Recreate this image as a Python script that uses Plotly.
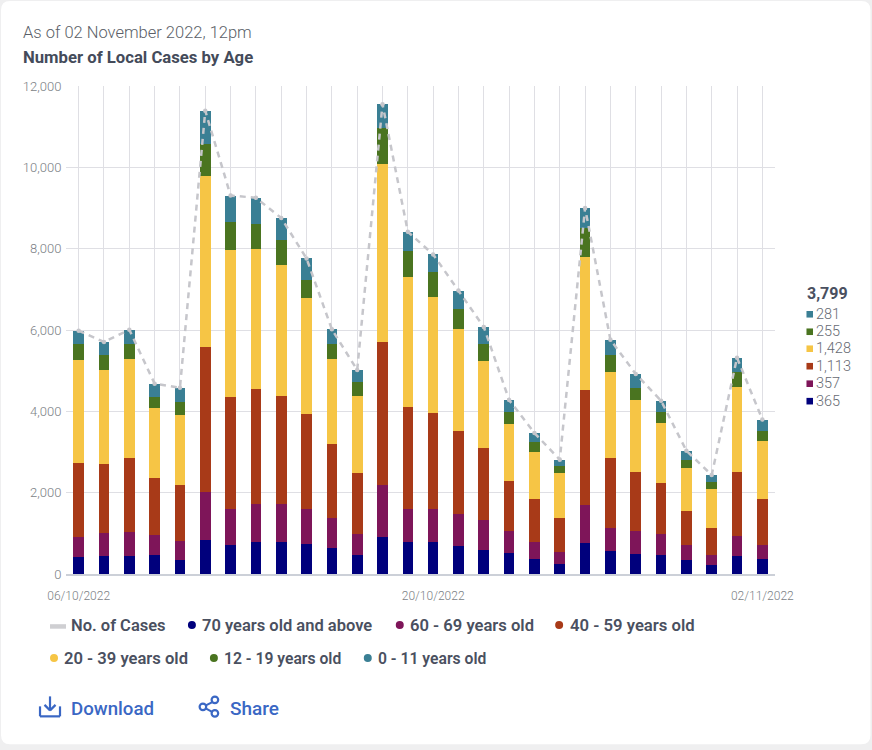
import plotly.graph_objects as go

dates = ["06/10/2022","07/10/2022","08/10/2022","09/10/2022","10/10/2022","11/10/2022","12/10/2022",
         "13/10/2022","14/10/2022","15/10/2022","16/10/2022","17/10/2022","18/10/2022","19/10/2022",
         "20/10/2022","21/10/2022","22/10/2022","23/10/2022","24/10/2022","25/10/2022","26/10/2022",
         "27/10/2022","28/10/2022","29/10/2022","30/10/2022","31/10/2022","01/11/2022","02/11/2022"]
age_70_plus = [418,451,451,459,352,844,705,779,795,738,648,475,910,779,779,697,598,525,377,254,762,557,500,475,336,230,434,365]
age_60_69 = [500,565,590,508,451,1164,885,951,926,869,729,517,1270,828,828,778,722,524,402,279,943,582,549,500,369,237,509,357]
age_40_59 = [1803,1689,1811,1385,1394,3582,2754,2827,2648,2319,1820,1492,3533,2491,2360,2050,1778,1230,1065,844,2828,1705,1451,1255,852,672,1573,1113]
age_20_39 = [2541,2303,2435,1722,1721,4201,3629,3441,3235,2864,2090,1885,4380,3202,2843,2491,2148,1418,1164,1098,3267,2123,1779,1475,1050,959,2082,1428]
age_12_19 = [402,369,361,287,303,786,671,614,614,446,361,352,878,631,605,492,418,278,230,173,710,410,303,270,204,164,369,255]
age_0_11 = [320,328,360,319,361,815,663,639,537,523,368,295,582,484,442,462,410,304,229,163,490,385,336,287,222,172,353,281]
total_cases = [5984,5705,6008,4680,4582,11392,9307,9251,8755,7759,6016,5016,11553,8415,7857,6970,6074,4279,3467,2811,9000,5762,4918,4262,3033,2434,5320,3799]
shown_dates = ["06/10/2022","20/10/2022","02/11/2022"]
y_ticks = [0,2000,4000,6000,8000,10000,12000]

series = [("70 years old and above", age_70_plus, "#00007c"),
          ("60 - 69 years old", age_60_69, "#7e1559"),
          ("40 - 59 years old", age_40_59, "#a83a18"),
          ("20 - 39 years old", age_20_39, "#f6c545"),
          ("12 - 19 years old", age_12_19, "#4a7420"),
          ("0 - 11 years old", age_0_11, "#3a7f94")]

W, H = 872, 750
L, R, T, B = 66, 775.5, 86, 574.5
FONT = "Roboto"
def px(x): return (x - L) / (R - L)
def py(y): return (B - y) / (B - T)

fig = go.Figure()
for name, vals, col in series:
    fig.add_bar(x=dates, y=vals, name=name, marker=dict(color=col, line_width=0), showlegend=False)
fig.add_scatter(x=dates, y=total_cases, mode="lines+markers", name="No. of Cases",
                line=dict(color="#c6c6cb", width=2.5, dash="6px,5px"),
                marker=dict(size=4.5, color="#c6c6cb"), showlegend=False)

anns = []
def text(x, y, s, size, color, weight=400):
    anns.append(dict(xref="paper", yref="paper", x=px(x), y=py(y), text=s, showarrow=False,
                     xanchor="left", yanchor="middle", align="left", borderpad=0, borderwidth=0,
                     font=dict(family=FONT, size=size, color=color, weight=weight)))

text(23, 32, "As of 02 November 2022, 12pm", 16.5, "#5b5f68", 300)
text(23, 57, "Number of Local Cases by Age", 16.7, "#444b5a", 700)

# right-hand readout
text(808, 293.5, f"{total_cases[-1]:,}", 16, "#4a5060", 700)
shapes = []
ys = [314.5, 332, 349, 366.5, 384, 401.5]
for yy, (name, vals, col) in zip(ys, reversed(series)):
    text(817, yy, f"{vals[-1]:,}", 14.5, "#666a72", 300)
    shapes.append(dict(type="rect", xref="paper", yref="paper", x0=px(807), x1=px(813.5),
                       y0=py(yy - 3.3), y1=py(yy + 3.3), fillcolor=col, line_width=0))

# legend under the chart
LEG = "#4a5060"
text(71, 626, "No. of Cases", 16.5, LEG, 600)
shapes.append(dict(type="line", xref="paper", yref="paper", x0=px(50), x1=px(66), y0=py(627), y1=py(627),
                   line=dict(color="#cfcfd2", width=4.5)))
slots = [(192, 202, 626, 16.5), (400, 410, 626, 16.6), (559.5, 570, 626, 16.7),
         (54, 64, 659, 16.6), (214, 224, 659, 15.7), (368, 378, 659, 15.7)]
for (cx, tx, yy, fs), (name, vals, col) in zip(slots, series):
    text(tx, yy, name, fs, LEG, 600)
    shapes.append(dict(type="circle", xref="paper", yref="paper", x0=px(cx-4), x1=px(cx+4),
                       y0=py(yy-4.5), y1=py(yy+3.5), fillcolor=col, line_width=0))

# card
r = 9
x0, x1, y0, y1 = 1, 871, 1, 745
card = (f"M {px(x0+r)} {py(y0)} L {px(x1-r)} {py(y0)} Q {px(x1)} {py(y0)} {px(x1)} {py(y0+r)} "
        f"L {px(x1)} {py(y1-r)} Q {px(x1)} {py(y1)} {px(x1-r)} {py(y1)} L {px(x0+r)} {py(y1)} "
        f"Q {px(x0)} {py(y1)} {px(x0)} {py(y1-r)} L {px(x0)} {py(y0+r)} Q {px(x0)} {py(y0)} {px(x0+r)} {py(y0)} Z")
shapes.append(dict(type="path", xref="paper", yref="paper", path=card, fillcolor="white",
                   line_width=0, layer="below"))

# Download and Share actions
BLUE = "#3a67c4"
text(71, 709.5, "Download", 18.7, BLUE, 500)
text(230, 709.5, "Share", 19, BLUE, 500)
def seg(xa, ya, xb, yb):
    shapes.append(dict(type="line", xref="paper", yref="paper", x0=px(xa), y0=py(ya), x1=px(xb), y1=py(yb),
                       line=dict(color=BLUE, width=2.2)))
seg(50, 697, 50, 711); seg(44.5, 705.5, 50, 711); seg(55.5, 705.5, 50, 711)
seg(40, 707, 40, 717); seg(40, 717, 60, 717); seg(60, 717, 60, 707)
seg(203, 707.5, 215, 701.5); seg(203, 707.5, 215, 714)
for cx, cy in [(203, 707.5), (215, 700.5), (215, 714)]:
    shapes.append(dict(type="circle", xref="paper", yref="paper", x0=px(cx-3.3), x1=px(cx+3.3),
                       y0=py(cy-3.3), y1=py(cy+3.3), fillcolor="white", line=dict(color=BLUE, width=2.2)))

fig.update_layout(
    width=W, height=H, autosize=False, barmode="stack", bargap=0.58, showlegend=False,
    margin=dict(l=L, r=W - R, t=T, b=H - B, pad=0),
    paper_bgcolor="#efeff0", plot_bgcolor="white",
    font=dict(family=FONT), annotations=anns, shapes=shapes,
    xaxis=dict(type="category", tickmode="array", tickvals=dates, range=[-0.5, len(dates) - 0.5],
               ticktext=[d if d in shown_dates else "" for d in dates],
               showgrid=True, gridcolor="#dfdfe4", gridwidth=1, tickangle=0,
               tickfont=dict(family=FONT, size=12, color="#7c7f86", weight=300),
               ticks="outside", ticklen=10, tickcolor="rgba(0,0,0,0)",
               showline=True, linecolor="#ccd0d8", linewidth=1.5, zeroline=False),
    yaxis=dict(range=[0, 12000], tickmode="array", tickvals=y_ticks, tickformat=",",
               showgrid=True, gridcolor="#dfdfe4", gridwidth=1, zeroline=False,
               tickfont=dict(family=FONT, size=13, color="#7c7f86", weight=300),
               ticks="outside", ticklen=1, tickcolor="rgba(0,0,0,0)"),
)
fig.write_html("out.html", post_script="document.body.style.margin='0';document.body.style.overflow='hidden';",
               config=dict(displayModeBar=False))
